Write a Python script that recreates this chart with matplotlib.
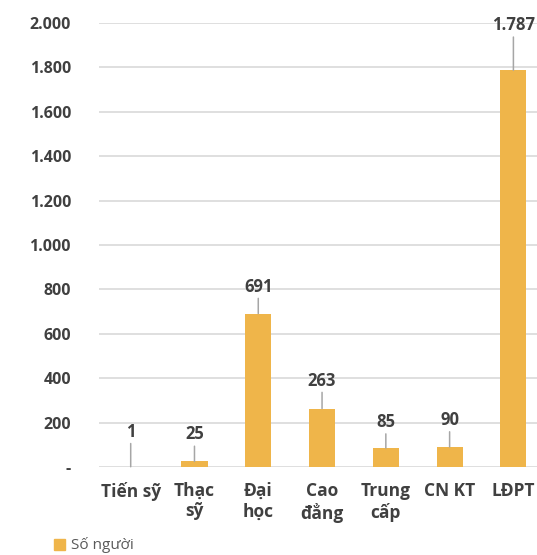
import matplotlib.pyplot as plt
from matplotlib.patches import Patch
from matplotlib.ticker import FuncFormatter

categories = ["Tiến sỹ", "Thạc\nsỹ", "Đại\nhọc", "Cao\nđẳng", "Trung\ncấp", "CN KT", "LĐPT"]
so_nguoi = [1, 25, 691, 263, 85, 90, 1787]

# how far each value label sits above its bar (pixels)
label_lift = [35, 27, 27, 28, 26, 27, 45]

BAR = "#EFB54A"
TXT = "#404040"
GRID = "#D9D9D9"

plt.rcParams['font.family'] = ['Open Sans', 'DejaVu Sans']

fig = plt.figure(figsize=(5.37, 5.55), dpi=100)
ax = fig.add_axes([0.184, 0.1586, 0.816, 0.80])

x = list(range(len(categories)))
ax.bar(x, so_nguoi, width=0.41, color=BAR, zorder=3)

ax.set_xlim(-0.5, 6.37)
ax.set_ylim(0, 2000)
ax.set_yticks(range(0, 2001, 200))


def vn_thousands(v, pos):
    if v == 0:
        return "-"
    return f"{int(v):,}".replace(",", ".")


ax.yaxis.set_major_formatter(FuncFormatter(vn_thousands))
ax.grid(axis='y', color=GRID, linewidth=1.2, zorder=0)
ax.set_axisbelow(True)
for s in ax.spines.values():
    s.set_visible(False)

ax.tick_params(axis='y', length=0, pad=20, labelsize=11.5, labelcolor=TXT)
ax.tick_params(axis='x', length=0, pad=11, labelsize=12.5, labelcolor=TXT)
for t in ax.get_yticklabels():
    t.set_fontweight('bold')
ax.set_xticks(x)
ax.set_xticklabels(categories, fontweight='bold', linespacing=1.15)

# value labels with short leader lines
for xi, v, lift in zip(x, so_nguoi, label_lift):
    ax.annotate(vn_thousands(v, None), xy=(xi, v), xytext=(0, lift),
                textcoords='offset pixels', ha='center', va='center',
                fontsize=12, fontweight='bold', color=TXT, annotation_clip=False,
                arrowprops=dict(arrowstyle='-', color='#A6A6A6', lw=1.1,
                                shrinkA=0, shrinkB=0))

fig.legend(handles=[Patch(color=BAR)], labels=["Số người"], loc='lower left',
           bbox_to_anchor=(0.075, -0.022), frameon=False, fontsize=11,
           labelcolor='#595959', handlelength=0.75, handleheight=0.75,
           handletextpad=0.35)

plt.savefig("out.png", dpi=100)
